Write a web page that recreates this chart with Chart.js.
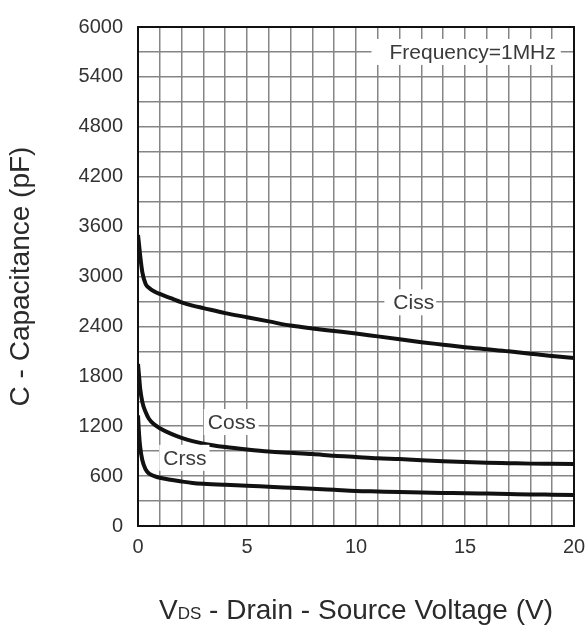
<!DOCTYPE html>
<html>
<head>
<meta charset="utf-8">
<script src="https://cdn.jsdelivr.net/npm/chart.js@4.4.1/dist/chart.umd.min.js"></script>
<style>
  html, body { margin: 0; padding: 0; background: #fff; }
  #wrap { width: 588px; height: 626px; }
</style>
</head>
<body>
<div id="wrap"><canvas id="capChart" width="588" height="626"></canvas></div>
<script>
// VDS (V)
const vds = [0, 0.05, 0.1, 0.2, 0.35, 0.5, 0.75, 1, 1.5, 2, 2.5, 3, 4, 5, 6, 7, 8, 9, 10, 11, 12, 13, 14, 15, 16, 17, 18, 19, 20];
// capacitance (pF)
const ciss = [3500, 3380, 3250, 3050, 2910, 2865, 2820, 2790, 2740, 2690, 2650, 2620, 2560, 2510, 2460, 2410, 2375, 2345, 2315, 2280, 2245, 2210, 2180, 2150, 2125, 2100, 2070, 2045, 2020];
const coss = [1950, 1800, 1650, 1490, 1370, 1290, 1220, 1175, 1110, 1060, 1020, 990, 950, 920, 895, 880, 865, 845, 830, 815, 805, 792, 780, 770, 762, 756, 750, 747, 744];
const crss = [1330, 1100, 950, 790, 680, 630, 600, 580, 555, 535, 518, 508, 495, 485, 472, 460, 448, 435, 422, 415, 408, 402, 398, 395, 390, 385, 380, 376, 372];

const xTickLabels = [0, 5, 10, 15, 20];
const yTickLabels = [0, 600, 1200, 1800, 2400, 3000, 3600, 4200, 4800, 5400, 6000];

const FONT = "Arial, 'Liberation Sans', sans-serif";

// in-plot notes, placed in data units
const notes = [
  { text: 'Frequency=1MHz', x: 15.35, y: 5700, padL: 18, padR: 5 },
  { text: 'Ciss', x: 12.65, y: 2690, padL: 9, padR: 2 },
  { text: 'Coss', x: 4.3, y: 1250, padL: 4, padR: 3 },
  { text: 'Crss', x: 2.15, y: 820, padL: 4, padR: 3 }
];

const pts = (ys) => vds.map((v, i) => ({ x: v, y: ys[i] }));

const line = (label, ys) => ({
  label: label,
  data: pts(ys),
  borderColor: '#111',
  borderWidth: 4,
  pointRadius: 0,
  fill: false,
  cubicInterpolationMode: 'monotone'
});

const framePlugin = {
  id: 'frame',
  afterDraw(chart) {
    const { ctx, chartArea: a, scales } = chart;
    ctx.save();
    ctx.strokeStyle = '#111';
    ctx.lineWidth = 2;
    ctx.strokeRect(a.left, a.top, a.right - a.left, a.bottom - a.top);

    // notes with white boxes
    ctx.font = '21px ' + FONT;
    ctx.textBaseline = 'middle';
    ctx.textAlign = 'center';
    notes.forEach(n => {
      const px = scales.x.getPixelForValue(n.x);
      const py = scales.y.getPixelForValue(n.y);
      const w = ctx.measureText(n.text).width;
      ctx.fillStyle = '#fff';
      ctx.fillRect(px - w / 2 - n.padL, py - 13, w + n.padL + n.padR, 26);
      ctx.fillStyle = '#3a3a3a';
      ctx.fillText(n.text, px, py + 1);
    });

    // y title
    ctx.font = '28px ' + FONT;
    ctx.fillStyle = '#2a2a2a';
    ctx.translate(21, (a.top + a.bottom) / 2);
    ctx.rotate(-Math.PI / 2);
    ctx.fillText('C - Capacitance (pF)', 0, 0);
    ctx.restore();

    // x title with subscript
    ctx.save();
    ctx.fillStyle = '#2a2a2a';
    ctx.textBaseline = 'alphabetic';
    ctx.textAlign = 'left';
    const big = '28px ' + FONT, small = '17px ' + FONT;
    const rest = ' - Drain - Source Voltage (V)';
    ctx.font = big;
    const wV = ctx.measureText('V').width;
    const wRest = ctx.measureText(rest).width;
    ctx.font = small;
    const wDS = ctx.measureText('DS').width;
    let x0 = (a.left + a.right) / 2 - (wV + wDS + wRest) / 2;
    const base = 619;
    ctx.font = big;
    ctx.fillText('V', x0, base);
    ctx.font = small;
    ctx.fillText('DS', x0 + wV, base);
    ctx.font = big;
    ctx.fillText(rest, x0 + wV + wDS, base);
    ctx.restore();
  }
};

new Chart(document.getElementById('capChart'), {
  type: 'line',
  data: {
    datasets: [line('Ciss', ciss), line('Coss', coss), line('Crss', crss)]
  },
  options: {
    responsive: false,
    animation: false,
    layout: { padding: { top: 26, right: 14, bottom: 0, left: 0 } },
    plugins: {
      legend: { display: false },
      tooltip: { enabled: false }
    },
    scales: {
      x: {
        type: 'linear',
        min: 0,
        max: 20,
        afterFit: (s) => { s.height = 100; s.paddingLeft = 0; s.paddingRight = 0; },
        grid: { color: '#858585', lineWidth: 1.5, drawTicks: false },
        border: { color: '#111', width: 2 },
        ticks: {
          stepSize: 1,
          autoSkip: false,
          maxRotation: 0,
          padding: 9,
          color: '#333',
          font: { family: FONT, size: 20 },
          callback: (v) => xTickLabels.includes(v) ? String(v) : ''
        }
      },
      y: {
        min: 0,
        max: 6000,
        afterFit: (s) => { s.width = 138; },
        grid: { color: '#858585', lineWidth: 1.5, drawTicks: false },
        border: { color: '#111', width: 2 },
        ticks: {
          stepSize: 300,
          autoSkip: false,
          padding: 15,
          color: '#333',
          font: { family: FONT, size: 20 },
          callback: (v) => yTickLabels.includes(v) ? String(v) : ''
        }
      }
    }
  },
  plugins: [framePlugin]
});
</script>
</body>
</html>
